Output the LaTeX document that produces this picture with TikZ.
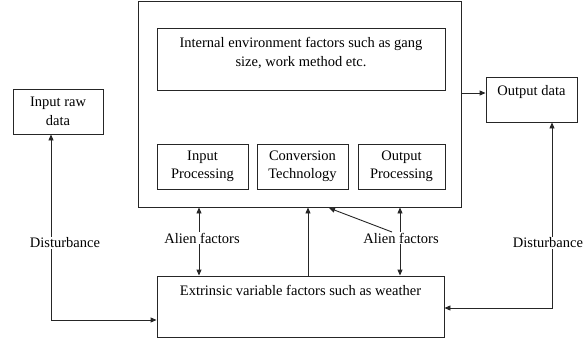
\documentclass[tikz,border=0pt]{standalone}
\usepackage{fontspec}
\setmainfont{Liberation Serif}
\usetikzlibrary{arrows.meta,calc}
\begin{document}
\begin{tikzpicture}[x=1pt,y=-1pt,
  ln/.style={line width=0.9pt,draw=black!85},
  box/.style={ln,rectangle,inner sep=0pt},
  txt/.style={align=center,inner sep=1pt,font=\fontsize{14.5}{18.5}\selectfont},
  arr/.style={ln,-{Triangle[length=6pt,width=5pt]}}]
\useasboundingbox (0,0) rectangle (585,345);
% boxes
\node[box,minimum width=323pt,minimum height=206pt] (big) at (299.5,104) {};
\node[box,minimum width=288pt,minimum height=62pt] (intl) at (301,59) {};
\node[txt] (intlt) at (301,53) {Internal environment factors such as gang\\size, work method etc.};
\node[box,txt,minimum width=91pt,minimum height=45pt] (inp) at (202.5,166.5) {Input\\Processing};
\node[box,txt,minimum width=91pt,minimum height=45pt] (conv) at (302.5,166.5) {Conversion\\Technology};
\node[box,txt,minimum width=87pt,minimum height=45pt] (outp) at (401.5,166.5) {Output\\Processing};
\node[box,minimum width=287pt,minimum height=61pt] (ext) at (300.5,306.5) {};
\node[txt] (extt) at (300.5,290) {Extrinsic variable factors such as weather};
\node[box,txt,minimum width=90pt,minimum height=45pt] (inraw) at (58,111.5) {Input raw\\data};
\node[box,minimum width=91pt,minimum height=45pt] (outd) at (531.5,99.5) {};
\node[txt] (outdt) at (531.5,92) {Output data};
% labels
\node[txt] (distL) at (65,243) {Disturbance};
\node[txt] (distR) at (548,243) {Disturbance};
\node[txt] (alienL) at (202,238) {Alien factors};
\node[txt] (alienR) at (401,238) {Alien factors};
% helper coordinates
\coordinate (xl) at (199,0);
\coordinate (xm) at (308,0);
\coordinate (xr) at (400,0);
\coordinate (dlx) at (51,0);
\coordinate (drx) at (552,0);
\coordinate (diag) at (392,232);
\coordinate (diagend) at (329,208);
\coordinate (yout) at (0,93);
\coordinate (ylow) at (0,320);
\coordinate (ylowR) at (0,308);
% connectors
\draw[arr] (alienL.north -| xl) -- (big.south -| xl);
\draw[arr] (alienL.south -| xl) -- (ext.north -| xl);
\draw[arr] (ext.north -| xm) -- (big.south -| xm);
\draw[arr] (alienR.north -| xr) -- (big.south -| xr);
\draw[arr] (alienR.south -| xr) -- (ext.north -| xr);
\draw[arr] (diag) -- (diagend);
\draw[arr] (big.east |- yout) -- (outd.west |- yout);
\draw[arr] (distL.north -| dlx) -- (inraw.south -| dlx);
\draw[arr] (distL.south -| dlx) -- (dlx |- ylow) -- (ext.west |- ylow);
\draw[arr] (distR.north -| drx) -- (outd.south -| drx);
\draw[arr] (distR.south -| drx) -- (drx |- ylowR) -- (ext.east |- ylowR);
\end{tikzpicture}
\end{document}
